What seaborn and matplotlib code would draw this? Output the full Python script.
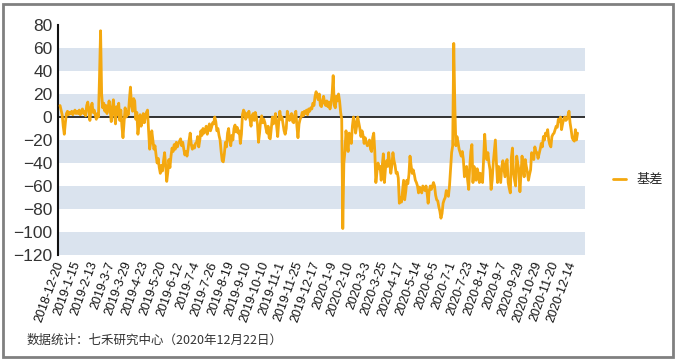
import matplotlib
matplotlib.use("Agg")
import matplotlib.pyplot as plt
from matplotlib.patches import Rectangle
import seaborn as sns
import pandas as pd

# tick labels (every 16th trading day)
tick_labels = ["2018-12-20", "2019-1-15", "2019-2-13", "2019-3-7", "2019-3-29",
               "2019-4-23", "2019-5-20", "2019-6-12", "2019-7-4", "2019-7-26",
               "2019-8-19", "2019-9-10", "2019-10-10", "2019-11-1", "2019-11-25",
               "2019-12-17", "2020-1-9", "2020-2-10", "2020-3-3", "2020-3-25",
               "2020-4-17", "2020-5-14", "2020-6-5", "2020-7-1", "2020-7-23",
               "2020-8-14", "2020-9-7", "2020-9-29", "2020-10-29", "2020-11-20",
               "2020-12-14"]

# basis values, 16 trading days per row
basis = [
    10, 6, 2, -8, -15, -5, 3, 5, 2, 4, 3, 5, 2, 4, 6, 3,
    5, 3, 6, 2, 4, 7, 3, 5, 1, 10, 13, 6, -3, 8, 12, 4,
    6, 2, -2, 3, 0, 35, 75, 20, 8, 12, 5, 10, 3, 8, 14, 6,
    -4, 8, 15, 3, -6, 9, 2, 12, -3, 6, -8, -18, -5, 8, 0, 5,
    2, 15, 26, 10, 5, 16, 14, -2, 4, -15, -6, 2, -8, -4, 3, -5,
    0, 4, 6, -12, -28, -22, -12, -20, -28, -25, -33, -40, -36, -44, -49, -42,
    -47, -38, -31, -42, -56, -48, -37, -44, -34, -27, -30, -24, -28, -22, -26, -23,
    -21, -19, -25, -22, -28, -33, -30, -34, -28, -20, -14, -24, -28, -25, -27, -23,
    -22, -17, -26, -20, -12, -16, -10, -14, -12, -8, -15, -10, -6, -12, -9, -5,
    -6, 0, -4, -12, -10, -16, -20, -30, -38, -39, -32, -22, -26, -14, -10, -20,
    -25, -16, -20, -10, -7, -13, -9, -14, -12, -23, -15, 2, 6, 4, -2, 3,
    0, 5, -2, -8, 1, 3, -3, 4, 0, -6, -22, -14, -3, 1, -5, -2,
    -5, -10, -14, -8, -18, -19, -10, 0, -6, -2, 3, -8, -17, -4, 5, -2,
    0, -6, -12, -15, -10, 5, 1, -3, -1, 3, -4, -5, 2, 5, -8, -18,
    -6, -2, 0, 4, 1, 5, 3, 6, 2, 7, 5, 8, 7, 12, 10, 18,
    22, 18, 15, 20, 10, 9, 14, 18, 12, 10, 14, 9, 13, 7, 12, 20,
    36, 10, 8, 18, 14, 20, 14, 4, -2, -97, -40, -30, -12, -22, -30, -14,
    -18, -23, -8, 0, -4, -14, -8, 0, -5, -10, -17, -12, -16, -23, -18, -22,
    -25, -24, -20, -28, -30, -18, -14, -30, -57, -48, -40, -45, -43, -55, -42, -32,
    -57, -45, -38, -43, -31, -40, -49, -42, -31, -38, -42, -49, -48, -53, -75, -70,
    -74, -64, -55, -72, -65, -55, -58, -50, -34, -42, -49, -46, -50, -55, -57, -60,
    -66, -61, -64, -66, -60, -62, -64, -60, -66, -75, -64, -60, -63, -60, -57, -60,
    -68, -72, -73, -78, -82, -88, -84, -75, -72, -70, -64, -66, -69, -60, -45, -31,
    -25, 64, 10, -25, -17, -22, -28, -31, -34, -30, -37, -52, -45, -43, -55, -63,
    -43, -30, -24, -57, -43, -50, -55, -45, -49, -57, -49, -52, -57, -35, -15, -30,
    -37, -31, -40, -46, -63, -55, -40, -30, -20, -40, -57, -43, -50, -57, -43, -38,
    -45, -52, -40, -37, -57, -62, -66, -35, -27, -49, -55, -60, -34, -40, -46, -65,
    -50, -34, -45, -52, -37, -43, -48, -55, -50, -46, -31, -35, -37, -26, -30, -31,
    -36, -32, -28, -23, -26, -17, -20, -14, -16, -11, -20, -24, -26, -17, -15, -14,
    -11, -8, -9, -2, -4, 0, -11, -6, -2, 0, -3, -2, 1, 5, -5, -11,
    -18, -20, -21, -11, -20, -14,
]

df = pd.DataFrame({"idx": range(len(basis)), "basis": basis})

sns.set_style("white")
plt.rcParams['font.family'] = ['Liberation Sans', 'Noto Sans CJK SC', 'DejaVu Sans']

fig = plt.figure(figsize=(6.77, 3.61), dpi=100)
ax = fig.add_axes([58 / 677, 1 - 255 / 361, 527 / 677, 230 / 361])

# alternating bands
for lo in [40, 0, -40, -80, -120]:
    ax.axhspan(lo, lo + 20, color="#DAE3EE", lw=0, zorder=0)
ax.axhline(0, color="#222222", lw=1.3, zorder=1)

sns.lineplot(data=df, x="idx", y="basis", ax=ax, color="#F4A80F", lw=2.0,
             label="基差", zorder=3)

ax.set_xlim(-1.9, 492)
ax.set_ylim(-120, 80)
ax.set_yticks(range(-120, 81, 20))
ax.set_xticks(range(0, 16 * len(tick_labels), 16))
ax.set_xticklabels(tick_labels, rotation=70, ha="right", va="center",
                   rotation_mode="anchor", fontsize=9, color="#111111")
ax.tick_params(axis="y", labelsize=12.5, labelcolor="#333333", length=0, pad=4)
ax.tick_params(axis="x", length=0, pad=5)
ax.set_xlabel("")
ax.set_ylabel("")
for s in ["top", "right", "bottom"]:
    ax.spines[s].set_visible(False)
ax.spines["left"].set_color("#111111")
ax.spines["left"].set_linewidth(1.5)

ax.legend(loc="center left", bbox_to_anchor=(613 / 677, 1 - 180 / 361),
          bbox_transform=fig.transFigure, frameon=False, handlelength=1.0,
          handletextpad=0.8, borderpad=0, borderaxespad=0,
          prop={"family": ["Noto Sans CJK SC"], "size": 9.5})

fig.text(27 / 677, 1 - 340 / 361, "数据统计：七禾研究中心（2020年12月22日）",
         fontsize=9, color="#333333", va="center", family=["Noto Sans CJK SC"])

fig.patches.append(Rectangle((3 / 677, 4 / 361), 670 / 677, 353 / 361,
                             transform=fig.transFigure, fill=False,
                             edgecolor="#808080", lw=2))

fig.savefig("out.png", dpi=100)
